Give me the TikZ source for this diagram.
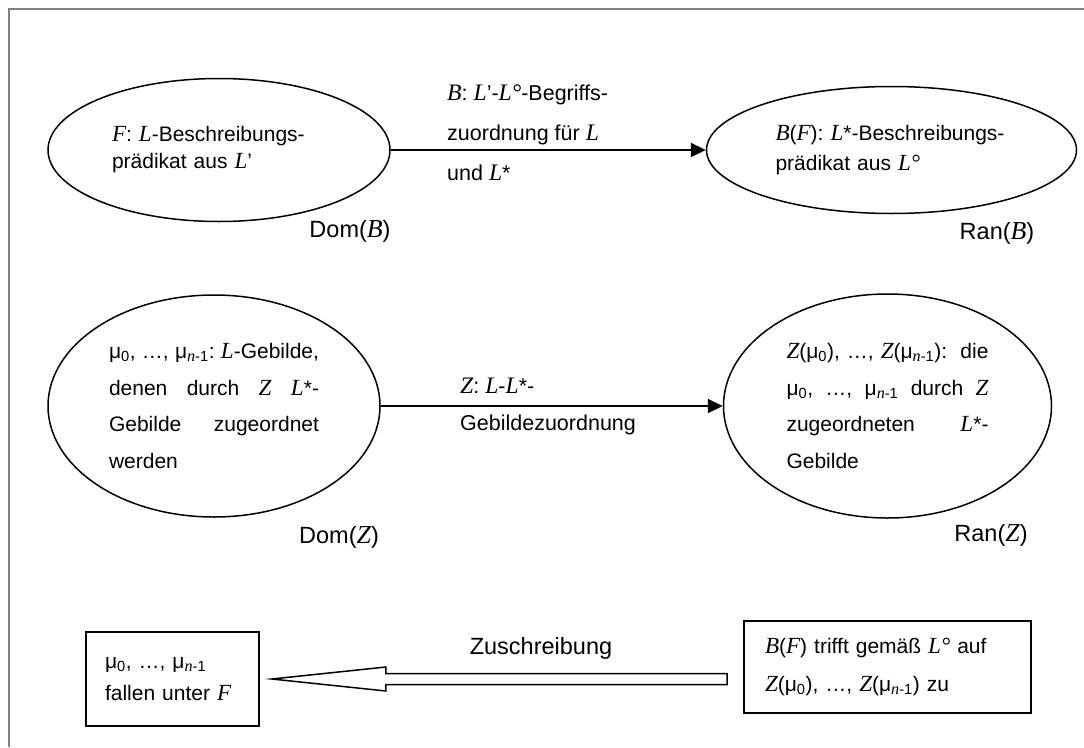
\documentclass[tikz,border=0pt]{standalone}
\usepackage{fontspec}
\setmainfont{Liberation Sans}
\newfontfamily\tms{Liberation Serif}[Scale=1.1]
\usepackage{tikz}
\usetikzlibrary{positioning}
\usetikzlibrary{arrows.meta,shapes.geometric,calc}

\newcommand{\mv}[1]{{\tms\itshape #1}}
\newcommand{\muz}{μ\textsubscript{0}}
\newcommand{\mun}{μ\textsubscript{\mv{n}-1}}

\begin{document}
\begin{tikzpicture}[x=1pt,y=-1pt,font=\fontsize{21}{25}\selectfont,
		menge/.style={draw,ellipse,line width=1.5pt,inner sep=0pt,align=left},
		kasten/.style={draw,rectangle,line width=1.8pt,align=left,inner ysep=0pt},
		pfeil/.style={line width=2.2pt,-{Triangle[length=15pt,width=14pt]}},
		hohl/.style={line width=1.5pt,fill=white},
		txt/.style={inner sep=0pt,align=left},
		bereich/.style={inner sep=0pt,font=\fontsize{23.5}{28}\selectfont}]
			\useasboundingbox (0,0) rectangle (1084,747);
			\draw[gray,line width=2pt] (9,747) -- (9,9) -- (1084,9);
			
			\node[menge,minimum width=342pt,minimum height=143pt,text width=214pt,font=\fontsize{21}{27}\selectfont] (domB) at (219,150) {\mbox{\mv{F}: \mv{L}-Beschreibungs-}\\prädikat aus \mv{L}'};
			\node[menge,minimum width=370pt,minimum height=127pt,text width=232pt,font=\fontsize{21}{30}\selectfont] (ranB) [right = 315pt of domB] {\mbox{\mv{B}(\mv{F}): \mv{L}*-Beschreibungs-}\\prädikat aus \mv{L°}};
			
			\node[txt,anchor=west,font=\fontsize{21.5}{40}\selectfont] (bLab) at (447,133) {\mv{B}: \mv{L}'-\mv{L°}-Begriffs-\\zuordnung für \mv{L}\\und \mv{L}*};
			\draw[pfeil] (domB) -- (ranB);
			
			\node[bereich] (domBn) at (350,231) {Dom(\mv{B})};
			\node[bereich] (ranBn) at (997,233) {Ran(\mv{B})};
			
			\node[menge,minimum width=332pt,minimum height=222pt,text width=210pt,font=\fontsize{21}{36.5}\selectfont] (domZ) at (214,406) {\muz,\hfill …,\hfill \mun:\hfill \mv{L}-Gebilde,\\denen\hfill durch\hfill \mv{Z}\hfill \mv{L}*-\\Gebilde\hfill zugeordnet\\werden};
			\node[menge,minimum width=328pt,minimum height=224pt,text width=202pt,font=\fontsize{21}{36.5}\selectfont] (ranZ) [right = 342pt of domZ] {\mv{Z}(\muz), …, \mv{Z}(\mun):\hfill die\\\muz,\hfill …,\hfill \mun\hfill durch\hfill \mv{Z}\\zugeordneten\hfill \mv{L}*-\\Gebilde};
			
			\node[txt,anchor=west,font=\fontsize{21.5}{37}\selectfont] (zLab) at (460,406) {\mv{Z}: \mv{L}-\mv{L}*-\\Gebildezuordnung};
			\draw[pfeil] (domZ) -- (ranZ);
			
			\node[bereich] (domZn) at (339,537) {Dom(\mv{Z})};
			\node[bereich] (ranZn) at (991,535) {Ran(\mv{Z})};
			
			\node[kasten,minimum width=173pt,minimum height=94pt,text width=135pt,inner xsep=19pt,font=\fontsize{21}{32}\selectfont] (fallen) at (172.5,679) {\muz, …, \mun\\fallen unter \mv{F}};
			\node[kasten,minimum width=287pt,minimum height=92pt,text width=245pt,inner xsep=21pt,font=\fontsize{21}{38}\selectfont] (trifft) at (887.5,667) {\mv{B}(\mv{F}) trifft gemäß \mv{L°} auf\\\mv{Z}(\muz), …, \mv{Z}(\mun) zu};
			
			\coordinate (zs) at ($(fallen.east)+(12,0)$);
			\coordinate (ze) at ($(trifft.west |- fallen.east)+(-16,0)$);
			\draw[hohl] (zs) -- ++(114,-12) -- ++(0,6.5) -- ($(ze)+(0,-5.5)$) -- ($(ze)+(0,5.5)$) -- ($(zs)+(114,5.5)$) -- ++(0,6.5) -- cycle;
			\node[bereich] (zuschr) at (541,648) {Zuschreibung};
			\end{tikzpicture}
\end{document}
